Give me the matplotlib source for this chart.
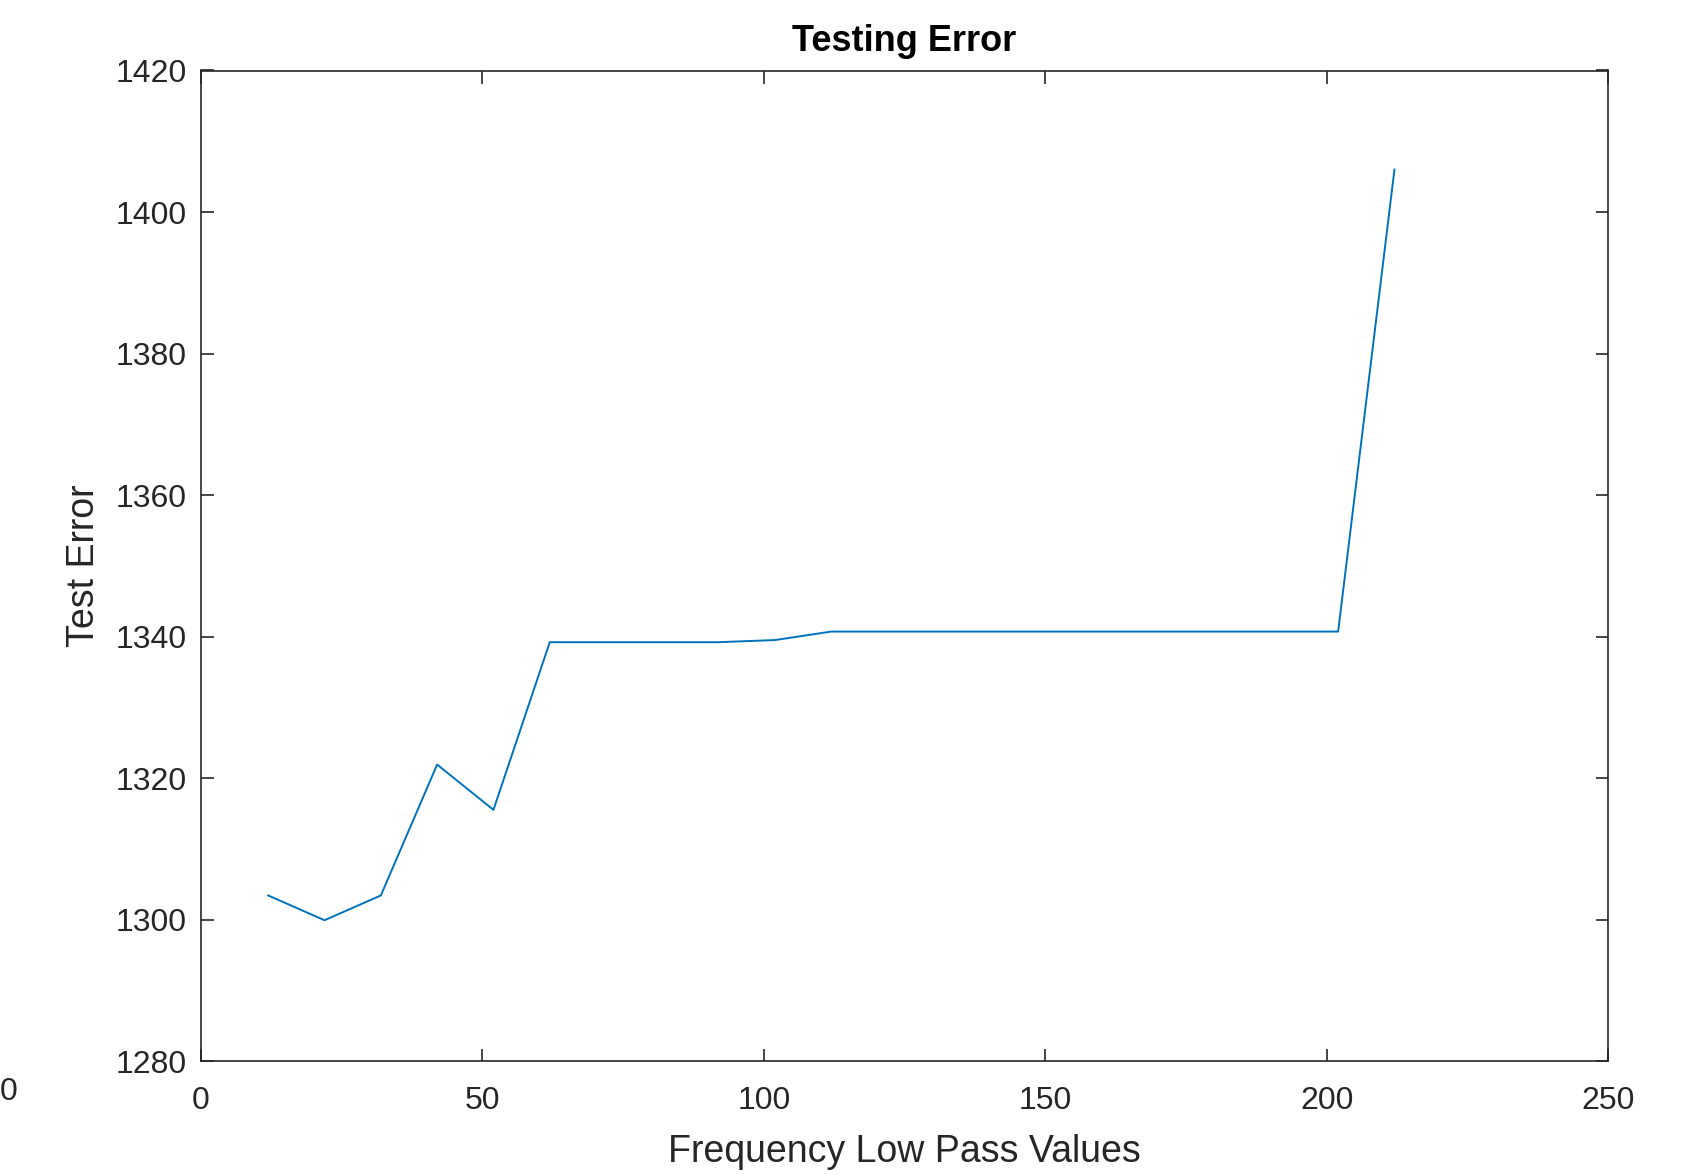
import matplotlib.pyplot as plt

plt.rcParams['font.family'] = ['Liberation Sans', 'DejaVu Sans']

# low pass cut-off frequency vs test error
freq = [12, 22, 32, 42, 52, 62, 72, 82, 92, 102, 112, 122, 132, 142,
        152, 162, 172, 182, 192, 202, 212]
test_err = [1303.4, 1299.9, 1303.4, 1321.9, 1315.5, 1339.2, 1339.2, 1339.2,
            1339.2, 1339.5, 1340.7, 1340.7, 1340.7, 1340.7, 1340.7, 1340.7,
            1340.7, 1340.7, 1340.7, 1340.7, 1406.0]

xticks = [0, 50, 100, 150, 200, 250]
yticks = [1280, 1300, 1320, 1340, 1360, 1380, 1400, 1420]

fig = plt.figure(figsize=(16.86, 11.75), dpi=100)
ax = fig.add_axes([0.119, 0.097, 0.835, 0.843])
ax.plot(freq, test_err, color='#0072BD', linewidth=1.4)

ax.set_xlim(0, 250)
ax.set_ylim(1280, 1420)
ax.set_xticks(xticks)
ax.set_yticks(yticks)
ax.tick_params(direction='in', top=True, right=True, length=9, width=1.2,
               labelsize=23, labelcolor='#262626', color='#262626')
ax.tick_params(axis='x', pad=18)
ax.tick_params(axis='y', pad=10)
for s in ax.spines.values():
    s.set_color('#262626')
    s.set_linewidth(1.2)

ax.set_title('Testing Error', fontsize=26, fontweight='bold', pad=14)
ax.set_xlabel('Frequency Low Pass Values', fontsize=27, color='#262626', labelpad=13)
ax.set_ylabel('Test Error', fontsize=27, color='#262626', labelpad=10)

# leftover tick label from a neighbouring panel
fig.text(0.0053, 0.0705, '0', fontsize=23, color='#262626', ha='center', va='center')

fig.savefig('out.png', dpi=100)
